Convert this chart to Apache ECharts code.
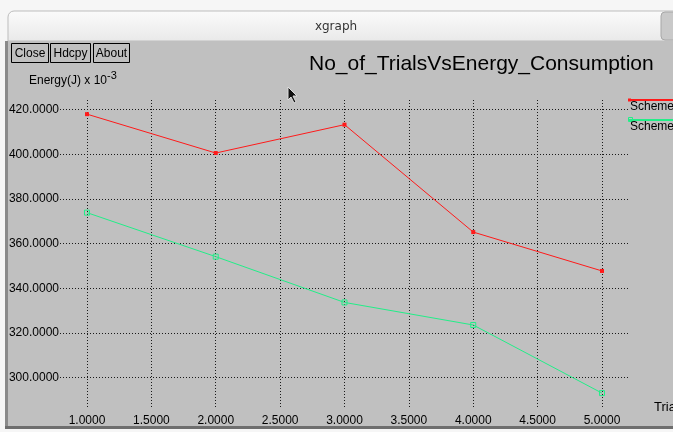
<!DOCTYPE html>
<html><head><meta charset="utf-8">
<script src="https://cdn.jsdelivr.net/npm/echarts@6/dist/echarts.min.js"></script>
<style>html,body{margin:0;padding:0;background:#f6f6f6}#c{width:673px;height:432px}</style>
</head><body><div id="c"></div>
<script>
const windowTitle = 'xgraph';
const chartTitle = 'No_of_TrialsVsEnergy_Consumption';
const buttons = ['Close', 'Hdcpy', 'About'];
const yName = 'Energy(J) x 10';
const ySup = '-3';
const xName = 'Trials';
const seriesNames = ['Scheme_1', 'Scheme_2'];
const trials = [1, 2, 3, 4, 5];
const scheme1 = [418.0, 400.6, 413.3, 365.2, 347.8];
const scheme2 = [373.9, 354.2, 333.7, 323.6, 293.1];
const xTicks = [1.0, 1.5, 2.0, 2.5, 3.0, 3.5, 4.0, 4.5, 5.0];
const yTicks = [300, 320, 340, 360, 380, 400, 420];

const RED = '#ff1a1a', GREEN = '#22ee88';
const FONT = '"Liberation Sans", Arial, sans-serif';
const chart = echarts.init(document.getElementById('c'), null, {renderer: 'canvas'});

const gridLines = xTicks.map(v => ({xAxis: v})).concat(yTicks.map(v => ({yAxis: v})));

const btnX = [11, 50, 93], btnW = [37, 40, 36];
const graphics = [
  {type: 'rect', shape: {x: 8, y: 11, width: 670, height: 30, r: [6, 0, 0, 0]},
   style: {fill: new echarts.graphic.LinearGradient(0, 0, 0, 1, [{offset: 0, color: '#fbfbfb'}, {offset: 1, color: '#e9e9e9'}]), stroke: '#bdbdbd'}, z: -10},
  {type: 'rect', shape: {x: 661, y: 12, width: 20, height: 28, r: 4}, style: {fill: '#c9c9c9', stroke: '#a8a8a8'}, z: -9},
  {type: 'text', style: {text: windowTitle, x: 336, y: 27, align: 'center', verticalAlign: 'middle', fontSize: 12, fontFamily: 'DejaVu Sans', fill: '#333'}},
  {type: 'rect', shape: {x: 8, y: 41, width: 670, height: 386}, style: {fill: '#c0c0c0'}, z: -10},
  {type: 'rect', shape: {x: 5, y: 41, width: 3, height: 387}, style: {fill: '#8a8a8a'}, z: -10},
  {type: 'rect', shape: {x: 5, y: 426, width: 673, height: 3}, style: {fill: '#6e6e6e'}, z: -10},
  {type: 'polygon', shape: {points: [[288, 87], [288, 100], [291, 97], [294, 103], [296, 102], [293, 96], [297, 96]]}, style: {fill: '#111', stroke: '#ddd'}, z: 50}
];
buttons.forEach((b, i) => {
  graphics.push({type: 'rect', shape: {x: btnX[i] + 0.5, y: 43.5, width: btnW[i], height: 19}, style: {fill: 'none', stroke: '#000', lineWidth: 1}});
  graphics.push({type: 'text', style: {text: b, x: btnX[i] + btnW[i] / 2 + 0.5, y: 53.5, align: 'center', verticalAlign: 'middle', fontSize: 12, fontFamily: FONT, fill: '#000'}});
});
graphics.push({type: 'text', style: {text: yName, x: 29, y: 81, verticalAlign: 'middle', fontSize: 12, fontFamily: FONT, fill: '#000'}});
graphics.push({type: 'text', style: {text: ySup, x: 107, y: 76, verticalAlign: 'middle', fontSize: 11, fontFamily: FONT, fill: '#000'}});
// legend
const legColors = [RED, GREEN];
seriesNames.forEach((n, i) => {
  const y = 100 + i * 20;
  graphics.push({type: 'line', shape: {x1: 628, y1: y, x2: 673, y2: y}, style: {stroke: legColors[i], lineWidth: 2}});
  graphics.push(i === 0
    ? {type: 'rect', shape: {x: 628, y: y - 1.5, width: 3, height: 3}, style: {fill: legColors[i]}}
    : {type: 'rect', shape: {x: 628.5, y: y - 2.5, width: 4, height: 4}, style: {fill: 'none', stroke: legColors[i]}});
  graphics.push({type: 'text', style: {text: n, x: 630, y: y + 1, verticalAlign: 'top', fontSize: 12, fontFamily: FONT, fill: '#000'}});
});

chart.setOption({
  animation: false,
  backgroundColor: '#f6f6f6',
  title: {text: chartTitle, left: 304, top: 49, textStyle: {fontSize: 21, fontWeight: 'normal', fontFamily: FONT, color: '#000'}},
  graphic: graphics,
  grid: {left: 60, right: 45, top: 99, bottom: 25, containLabel: false, outerBoundsMode: 'none'},
  xAxis: {
    type: 'value', min: 0.7903, max: 5.202,
    name: xName, nameLocation: 'end', nameGap: 26,
    nameTextStyle: {fontSize: 13, fontFamily: FONT, color: '#000', align: 'left', verticalAlign: 'middle'},
    axisLine: {show: false}, axisTick: {show: false}, splitLine: {show: false},
    axisLabel: {customValues: xTicks, formatter: v => v.toFixed(4), fontSize: 12, fontFamily: FONT, color: '#000', margin: 8}
  },
  yAxis: {
    type: 'value', min: 286.88, max: 424.79,
    axisLine: {show: false}, axisTick: {show: false}, splitLine: {show: false},
    axisLabel: {customValues: yTicks, formatter: v => v.toFixed(4), fontSize: 12, fontFamily: FONT, color: '#000', margin: 1}
  },
  series: [
    {name: seriesNames[0], type: 'line', data: trials.map((x, i) => [x, scheme1[i]]),
     symbol: 'rect', symbolSize: 4, itemStyle: {color: RED}, lineStyle: {color: RED, width: 1}, z: 5,
     markLine: {silent: true, symbol: 'none', label: {show: false}, animation: false,
       lineStyle: {color: '#1a1a1a', width: 1, type: [1, 2]}, emphasis: {disabled: true}, data: gridLines}},
    {name: seriesNames[1], type: 'line', data: trials.map((x, i) => [x, scheme2[i]]),
     symbol: 'rect', symbolSize: 5, itemStyle: {color: 'rgba(0,0,0,0)', borderColor: GREEN, borderWidth: 1},
     lineStyle: {color: GREEN, width: 1}, z: 5}
  ]
});
</script></body></html>
